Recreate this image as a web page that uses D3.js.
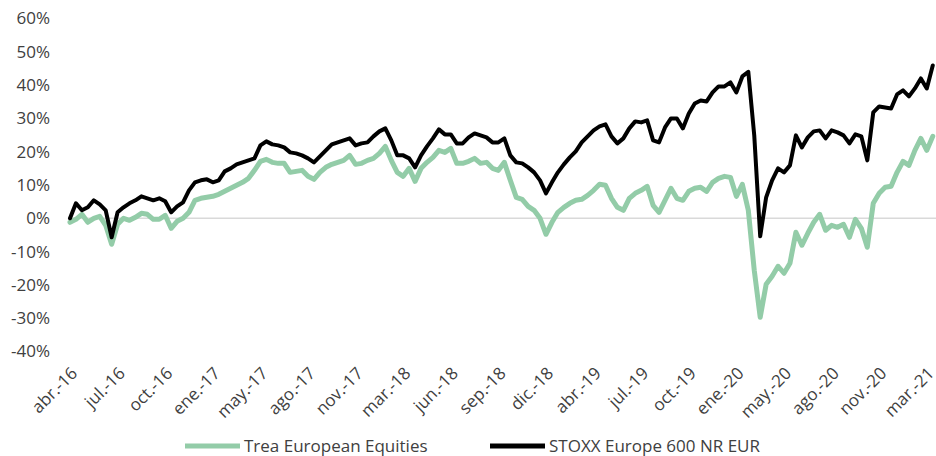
<!DOCTYPE html>
<html>
<head>
<meta charset="utf-8">
<script src="https://cdn.jsdelivr.net/npm/d3@7"></script>
<style>
  body { margin: 0; background: #fff; }
  text { font-family: "Open Sans", sans-serif; fill: #404040; }
</style>
</head>
<body>
<script>
// sampled values (%), evenly spaced in time, Apr-2016 .. Mar-2021
var trea = [
  -1.2, -0.3, 1.2, -1.2, 0, 0.6, -2.1, -7.8, -1.8, 0,
  -0.6, 0.3, 1.5, 1.2, -0.3, -0.3, 0.9, -3, -0.9, 0,
  1.8, 5.4, 6, 6.3, 6.6, 7.2, 8.1, 9, 9.9, 10.8,
  12, 14.4, 17.1, 17.7, 16.8, 16.5, 16.5, 13.8, 14.1, 14.4,
  12.6, 11.7, 13.8, 15.3, 16.2, 16.8, 17.4, 18.9, 16.2, 16.5,
  17.4, 18, 19.5, 21.6, 17.4, 13.8, 12.6, 15, 11.1, 15,
  16.8, 18.3, 20.4, 19.8, 21, 16.5, 16.5, 17.1, 18, 16.5,
  16.8, 15, 14.4, 16.8, 11.4, 6.3, 5.7, 3.6, 2.4, 0,
  -4.8, -1.2, 1.8, 3.3, 4.5, 5.4, 5.7, 6.9, 8.4, 10.2,
  9.9, 6, 3.3, 2.4, 6, 7.5, 8.4, 9.6, 3.9, 1.8,
  5.4, 9, 6, 5.4, 8.1, 9, 9.3, 8.1, 10.8, 12,
  12.6, 12.3, 6.6, 10.2, 2.4, -15.6, -29.7, -19.8, -17.4, -14.4,
  -16.5, -13.5, -4.2, -8.1, -4.5, -1.2, 1.2, -3.6, -2.1, -2.7,
  -1.8, -5.7, -0.3, -3, -8.7, 4.5, 7.5, 9.3, 9.6, 13.8,
  17.1, 15.9, 20.4, 24, 20.4, 24.6
];

var stoxx = [
  0, 4.5, 2.4, 3.3, 5.4, 4.2, 2.4, -5.7, 1.8, 3.3,
  4.5, 5.4, 6.6, 6, 5.4, 6, 5.1, 1.8, 3.6, 4.8,
  8.4, 10.8, 11.4, 11.7, 10.8, 11.4, 14.1, 15, 16.2, 16.8,
  17.4, 18, 21.9, 23.1, 22.2, 21.9, 21.3, 19.8, 19.5, 18.9,
  18, 16.8, 18.6, 20.4, 22.2, 22.8, 23.4, 24, 21.9, 22.5,
  22.8, 24.6, 26.1, 27, 23.4, 18.9, 18.9, 18, 15.3, 18.9,
  21.6, 24, 26.7, 25.2, 25.2, 22.5, 22.5, 24.3, 25.5, 24.9,
  24.3, 22.8, 22.8, 24, 18.9, 16.8, 16.5, 15.3, 13.8, 11.4,
  7.5, 10.8, 13.8, 16.2, 18.3, 20.1, 22.8, 24.6, 26.4, 27.6,
  28.2, 24.6, 22.5, 24, 27, 29.1, 28.8, 29.4, 23.4, 22.8,
  27.3, 30, 30, 27, 31.5, 34.5, 35.4, 35.1, 37.8, 39.6,
  39.6, 40.8, 37.8, 42.6, 44, 24.9, -5.4, 6.3, 11.4, 15,
  13.8, 15.9, 24.9, 21.3, 24.3, 26.1, 26.4, 24, 26.4, 25.8,
  24.9, 22.5, 25.2, 24.6, 17.4, 31.8, 33.6, 33.3, 33, 37.2,
  38.4, 36.6, 39, 42, 39, 45.9
];

var tickLabels = ["abr.-16", "jul.-16", "oct.-16", "ene.-17", "may.-17", "ago.-17",
  "nov.-17", "mar.-18", "jun.-18", "sep.-18", "dic.-18", "abr.-19", "jul.-19",
  "oct.-19", "ene.-20", "may.-20", "ago.-20", "nov.-20", "mar.-21"];
var tickEvery = 8;

var yTicks = [-40, -30, -20, -10, 0, 10, 20, 30, 40, 50, 60];

var seriesNames = ["Trea European Equities", "STOXX Europe 600 NR EUR"];
var seriesColors = ["#93cca8", "#000000"];

var width = 936, height = 456;

var svg = d3.select("body").append("svg")
  .attr("width", width)
  .attr("height", height);

var x = d3.scaleLinear()
  .domain([0, trea.length - 1])
  .range([70, 932.75]);

var y = d3.scaleLinear()
  .domain([-40, 60])
  .range([351.5, 18.5]);

// y labels
svg.append("g")
  .selectAll("text")
  .data(yTicks)
  .enter()
  .append("text")
  .attr("x", 50)
  .attr("y", function (d) { return y(d); })
  .attr("dy", "0.35em")
  .attr("text-anchor", "end")
  .attr("font-size", 17)
  .text(function (d) { return d + "%"; });

// zero line
svg.append("line")
  .attr("x1", 68)
  .attr("x2", width)
  .attr("y1", y(0))
  .attr("y2", y(0))
  .attr("stroke", "#d9d9d9")
  .attr("stroke-width", 1.5);

// x labels
svg.append("g")
  .selectAll("text")
  .data(tickLabels)
  .enter()
  .append("text")
  .attr("transform", function (d, i) {
    return "translate(" + x(i * tickEvery) + ",366) rotate(-45)";
  })
  .attr("dy", "0.7em")
  .attr("text-anchor", "end")
  .attr("font-size", 17)
  .text(function (d) { return d; });

var line = d3.line()
  .x(function (d, i) { return x(i); })
  .y(function (d) { return y(d); });

[trea, stoxx].forEach(function (s, i) {
  svg.append("path")
    .datum(s)
    .attr("d", line)
    .attr("fill", "none")
    .attr("stroke", seriesColors[i])
    .attr("stroke-width", i == 0 ? 5 : 4)
    .attr("stroke-linejoin", "round")
    .attr("stroke-linecap", "round");
});

// legend
var legendX = [185, 490];
var legend = svg.append("g");
seriesNames.forEach(function (name, i) {
  legend.append("line")
    .attr("x1", legendX[i])
    .attr("x2", legendX[i] + 55)
    .attr("y1", 446)
    .attr("y2", 446)
    .attr("stroke", seriesColors[i])
    .attr("stroke-width", 5);
  legend.append("text")
    .attr("x", legendX[i] + 59)
    .attr("y", 446)
    .attr("dy", "0.35em")
    .attr("font-size", 17)
    .text(name);
});
</script>
</body>
</html>
